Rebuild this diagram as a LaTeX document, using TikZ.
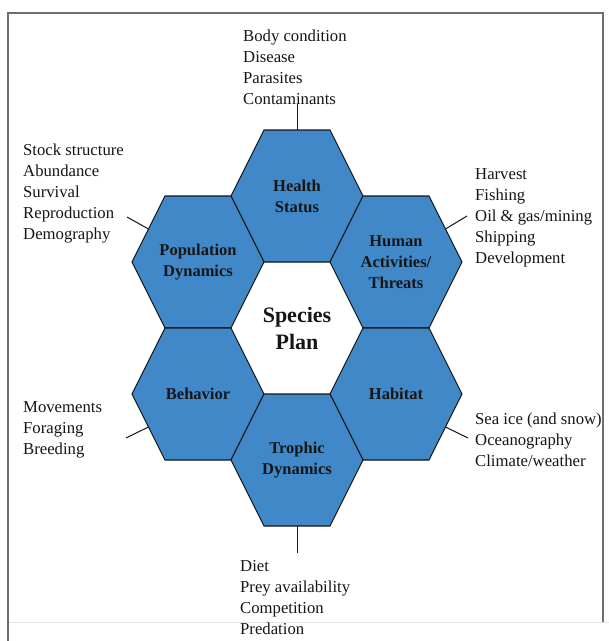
\documentclass[tikz,border=0pt]{standalone}
\usepackage{fontspec}
\setmainfont{Liberation Serif}
\usetikzlibrary{calc}
\definecolor{hexblue}{RGB}{64,136,200}
\definecolor{ink}{RGB}{22,22,22}
\definecolor{framegray}{RGB}{110,110,110}
\definecolor{faintgray}{RGB}{228,228,228}
\begin{document}
\begin{tikzpicture}[x=1pt,y=-1pt,
  hex/.style={fill=hexblue, draw=ink, line width=1.1pt, line join=miter},
  hexlabel/.style={font=\fontsize{16.5}{21}\selectfont\bfseries, text=ink, align=center, inner sep=0pt},
  biglabel/.style={font=\fontsize{22}{27}\selectfont\bfseries, text=ink, align=center, inner sep=0pt},
  listtext/.style={font=\fontsize{16.7}{21}\selectfont, text=ink, inner sep=0pt, anchor=base west},
  conn/.style={draw=ink, line width=1pt}]
\useasboundingbox (0,0) rectangle (609,641);
\fill[white] (0,0) rectangle (609,641);
% frame
\draw[faintgray, line width=1pt] (8,622) -- (609,622);
\draw[framegray, line width=1.2pt] (8,641) -- (8,13) -- (603,13) -- (603,622);
% hexagon centres
\coordinate (cHealth) at (297,196);
\coordinate (cPop) at (198,262);
\coordinate (cHuman) at (396,262);
\coordinate (cPlan) at (297,328);
\coordinate (cBeh) at (198,394);
\coordinate (cHab) at (396,394);
\coordinate (cTro) at (297,460);
% hexagons
\foreach \c in {cHealth,cPop,cHuman,cBeh,cHab,cTro}{
  \draw[hex] (\c) +(-66,0) -- +(-33,-66) -- +(33,-66) -- +(66,0) -- +(33,66) -- +(-33,66) -- cycle;
}
% labels
\node[hexlabel] (health) at (cHealth) {Health\\Status};
\node[hexlabel] (pop) at (cPop) {Population\\Dynamics};
\node[hexlabel] (human) at (cHuman) {Human\\Activities/\\Threats};
\node[biglabel] (plan) at (cPlan) {Species\\Plan};
\node[hexlabel] (beh) at (cBeh) {Behavior};
\node[hexlabel] (hab) at (cHab) {Habitat};
\node[hexlabel] (tro) at (cTro) {Trophic\\Dynamics};
% lists
\node[listtext] (topTxt) at (243,41) {\begin{tabular}[t]{@{}l@{}}Body condition\\Disease\\Parasites\\Contaminants\end{tabular}};
\node[listtext] (popTxt) at (23,155) {\begin{tabular}[t]{@{}l@{}}Stock structure\\Abundance\\Survival\\Reproduction\\Demography\end{tabular}};
\node[listtext] (humTxt) at (475,179) {\begin{tabular}[t]{@{}l@{}}Harvest\\Fishing\\Oil \& gas/mining\\Shipping\\Development\end{tabular}};
\node[listtext] (behTxt) at (23,412) {\begin{tabular}[t]{@{}l@{}}Movements\\Foraging\\Breeding\end{tabular}};
\node[listtext] (habTxt) at (475,424) {\begin{tabular}[t]{@{}l@{}}Sea ice (and snow)\\Oceanography\\Climate/weather\end{tabular}};
\node[listtext] (troTxt) at (240,571) {\begin{tabular}[t]{@{}l@{}}Diet\\Prey availability\\Competition\\Predation\end{tabular}};
% connector points
\coordinate (healthEdge) at ($(cHealth)+(0,-66)$);
\coordinate (healthEnd) at (297,104);
\coordinate (troEdge) at ($(cTro)+(0,66)$);
\coordinate (troEnd) at (297,553);
\coordinate (popEdge) at ($(cPop)+(-49.5,-33)$);
\coordinate (popEnd) at (127,217);
\coordinate (humEdge) at ($(cHuman)+(49.5,-33)$);
\coordinate (humEnd) at (467,216);
\coordinate (behEdge) at ($(cBeh)+(-49.5,33)$);
\coordinate (behEnd) at (126,438);
\coordinate (habEdge) at ($(cHab)+(49.5,33)$);
\coordinate (habEnd) at (468,438);
\draw[conn] (healthEdge) -- (healthEnd);
\draw[conn] (troEdge) -- (troEnd);
\draw[conn] (popEdge) -- (popEnd);
\draw[conn] (humEdge) -- (humEnd);
\draw[conn] (behEdge) -- (behEnd);
\draw[conn] (habEdge) -- (habEnd);
\end{tikzpicture}
\end{document}
